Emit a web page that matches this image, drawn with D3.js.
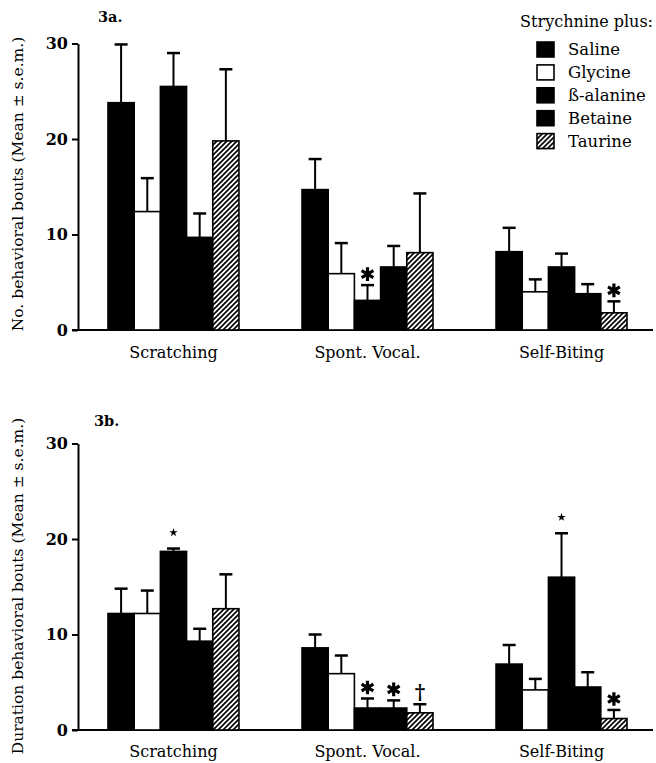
<!DOCTYPE html>
<html>
<head>
<meta charset="utf-8">
<script src="https://cdn.jsdelivr.net/npm/d3@7"></script>
<style>
  body { margin: 0; background: #fff; }
  text { font-family: "DejaVu Serif", serif; fill: #000; }
</style>
</head>
<body>
<div id="chart"></div>
<script>
// categories and treatments
var categories = ["Scratching", "Spont. Vocal.", "Self-Biting"];
var treatments = ["Saline", "Glycine", "ß-alanine", "Betaine", "Taurine"];

// 3a: number of bouts, one row per category, one value per treatment
var boutsMean = [[23.8, 12.4, 25.5, 9.7, 19.8],
                 [14.7, 5.9, 3.1, 6.6, 8.1],
                 [8.2, 4.0, 6.6, 3.8, 1.8]];
var boutsSem  = [[6.1, 3.5, 3.5, 2.5, 7.5],
                 [3.2, 3.2, 1.6, 2.2, 6.2],
                 [2.5, 1.3, 1.4, 1.0, 1.2]];

// 3b: duration of bouts
var durMean = [[12.2, 12.2, 18.7, 9.3, 12.7],
               [8.6, 5.9, 2.3, 2.3, 1.8],
               [6.9, 4.2, 16.0, 4.5, 1.2]];
var durSem  = [[2.6, 2.4, 0.3, 1.3, 3.6],
               [1.4, 1.9, 1.0, 0.8, 0.9],
               [2.0, 1.15, 4.6, 1.55, 0.9]];

// significance marks [category, treatment, kind]
var boutsMarks = [["Spont. Vocal.", "ß-alanine", "big"],
                  ["Self-Biting", "Taurine", "big"]];
var durMarks = [["Scratching", "ß-alanine", "small"],
                ["Spont. Vocal.", "ß-alanine", "big"],
                ["Spont. Vocal.", "Betaine", "big"],
                ["Spont. Vocal.", "Taurine", "dagger"],
                ["Self-Biting", "ß-alanine", "small"],
                ["Self-Biting", "Taurine", "big"]];

var yTicks = [0, 10, 20, 30];

var fills = {"Saline": "#000", "Glycine": "#fff", "ß-alanine": "#000",
             "Betaine": "#000", "Taurine": "url(#hatch)"};

var svg = d3.select("#chart").append("svg")
            .attr("width", 656)
            .attr("height", 763);

var defs = svg.append("defs");
var pat = defs.append("pattern")
              .attr("id", "hatch")
              .attr("patternUnits", "userSpaceOnUse")
              .attr("width", 5)
              .attr("height", 5);
pat.append("rect").attr("width", 5).attr("height", 5).attr("fill", "#fff");
pat.append("path")
   .attr("d", "M-1,1 l2,-2 M0,5 l5,-5 M4,6 l2,-2")
   .attr("stroke", "#000")
   .attr("stroke-width", 1.7);

var x0 = d3.scaleBand()
           .domain(categories)
           .range([108, 627])
           .paddingInner(0.325);

var x1 = d3.scaleBand()
           .domain(treatments)
           .range([0, x0.bandwidth()]);

function drawPanel(cfg) {
  var y = d3.scaleLinear().domain([0, 30]).range([cfg.bottom, cfg.top]);
  var g = svg.append("g");

  // panel tag
  g.append("text")
   .attr("x", cfg.tagX)
   .attr("y", cfg.tagY)
   .style("font-size", "14.5px")
   .style("font-weight", "bold")
   .text(cfg.tag);

  // y axis
  var axis = g.append("g")
              .attr("transform", "translate(78,0)")
              .call(d3.axisLeft(y).tickValues(yTicks).tickSize(6).tickSizeOuter(0).tickPadding(4));
  axis.select(".domain").attr("stroke", "#000").attr("stroke-width", 2);
  axis.selectAll(".tick line").attr("stroke", "#000").attr("stroke-width", 2);
  axis.selectAll(".tick text")
      .style("font-family", "DejaVu Serif, serif")
      .style("font-weight", "bold")
      .style("font-size", "16px");

  // baseline
  g.append("line")
   .attr("x1", 72).attr("x2", 653)
   .attr("y1", y(0)).attr("y2", y(0))
   .attr("stroke", "#000")
   .attr("stroke-width", 2);

  // y title
  g.append("text")
   .attr("transform", "translate(18," + cfg.titleY + ") rotate(-90)")
   .attr("text-anchor", "middle")
   .attr("dominant-baseline", "central")
   .style("font-size", "15.5px")
   .text(cfg.yTitle);

  // bars
  categories.forEach(function (c, ci) {
    var grp = g.append("g").attr("transform", "translate(" + x0(c) + ",0)");
    var rows = treatments.map(function (t, ti) {
      return {t: t, m: cfg.mean[ci][ti], s: cfg.sem[ci][ti]};
    });

    grp.selectAll("rect")
       .data(rows)
       .enter()
       .append("rect")
       .attr("x", function (d) { return x1(d.t); })
       .attr("y", function (d) { return y(d.m); })
       .attr("width", x1.bandwidth())
       .attr("height", function (d) { return y(0) - y(d.m); })
       .attr("fill", function (d) { return fills[d.t]; })
       .attr("stroke", "#000")
       .attr("stroke-width", 1.6);

    // error bars
    var eb = grp.selectAll("g.err")
                .data(rows)
                .enter()
                .append("g")
                .attr("class", "err");
    eb.append("line")
      .attr("x1", function (d) { return x1(d.t) + x1.bandwidth() / 2; })
      .attr("x2", function (d) { return x1(d.t) + x1.bandwidth() / 2; })
      .attr("y1", function (d) { return y(d.m); })
      .attr("y2", function (d) { return y(d.m + d.s); })
      .attr("stroke", "#000")
      .attr("stroke-width", 2);
    eb.append("line")
      .attr("x1", function (d) { return x1(d.t) + x1.bandwidth() / 2 - 6.5; })
      .attr("x2", function (d) { return x1(d.t) + x1.bandwidth() / 2 + 6.5; })
      .attr("y1", function (d) { return y(d.m + d.s); })
      .attr("y2", function (d) { return y(d.m + d.s); })
      .attr("stroke", "#000")
      .attr("stroke-width", 2.5);

    // category label
    g.append("text")
     .attr("x", x0(c) + x0.bandwidth() / 2)
     .attr("y", cfg.labelY)
     .attr("text-anchor", "middle")
     .style("font-size", "16px")
     .text(c);
  });

  // significance marks
  cfg.marks.forEach(function (mk) {
    var ci = categories.indexOf(mk[0]);
    var ti = treatments.indexOf(mk[1]);
    var cx = x0(mk[0]) + x1(mk[1]) + x1.bandwidth() / 2;
    var top = y(cfg.mean[ci][ti] + cfg.sem[ci][ti]);
    if (mk[2] === "big") {
      g.append("path")
       .attr("transform", "translate(" + cx + "," + (top - 11) + ")")
       .attr("d", d3.symbol(d3.symbolAsterisk, 130)())
       .attr("stroke", "#000")
       .attr("stroke-width", 3.2)
       .attr("fill", "none");
    } else if (mk[2] === "small") {
      g.append("path")
       .attr("transform", "translate(" + cx + "," + (top - 16) + ")")
       .attr("d", d3.symbol(d3.symbolStar, 22)())
       .attr("fill", "#000");
    } else {
      g.append("text")
       .attr("x", cx)
       .attr("y", top - 5)
       .attr("text-anchor", "middle")
       .style("font-size", "20px")
       .style("font-weight", "bold")
       .text("\u2020");
    }
  });
}

drawPanel({top: 43.5, bottom: 330, mean: boutsMean, sem: boutsSem, marks: boutsMarks,
           tag: "3a.", tagX: 98, tagY: 22, labelY: 358, titleY: 184,
           yTitle: "No. behavioral bouts  (Mean \u00b1 s.e.m.)"});
drawPanel({top: 443.5, bottom: 730, mean: durMean, sem: durSem, marks: durMarks,
           tag: "3b.", tagX: 94, tagY: 426, labelY: 757, titleY: 586,
           yTitle: "Duration behavioral bouts  (Mean \u00b1 s.e.m.)"});

// legend
var legend = svg.append("g");
legend.append("text")
      .attr("x", 653)
      .attr("y", 27)
      .attr("text-anchor", "end")
      .style("font-size", "16px")
      .text("Strychnine plus:");
var items = legend.selectAll("g.item")
                  .data(treatments)
                  .enter()
                  .append("g")
                  .attr("class", "item")
                  .attr("transform", function (d, i) { return "translate(0," + (49.5 + i * 22.9) + ")"; });
items.append("rect")
     .attr("x", 537)
     .attr("y", -7.5)
     .attr("width", 17)
     .attr("height", 15)
     .attr("fill", function (d) { return fills[d]; })
     .attr("stroke", "#000")
     .attr("stroke-width", 1.6);
items.append("text")
     .attr("x", 568)
     .attr("y", 0)
     .attr("dominant-baseline", "central")
     .style("font-size", "16.5px")
     .text(function (d) { return d; });
</script>
</body>
</html>
